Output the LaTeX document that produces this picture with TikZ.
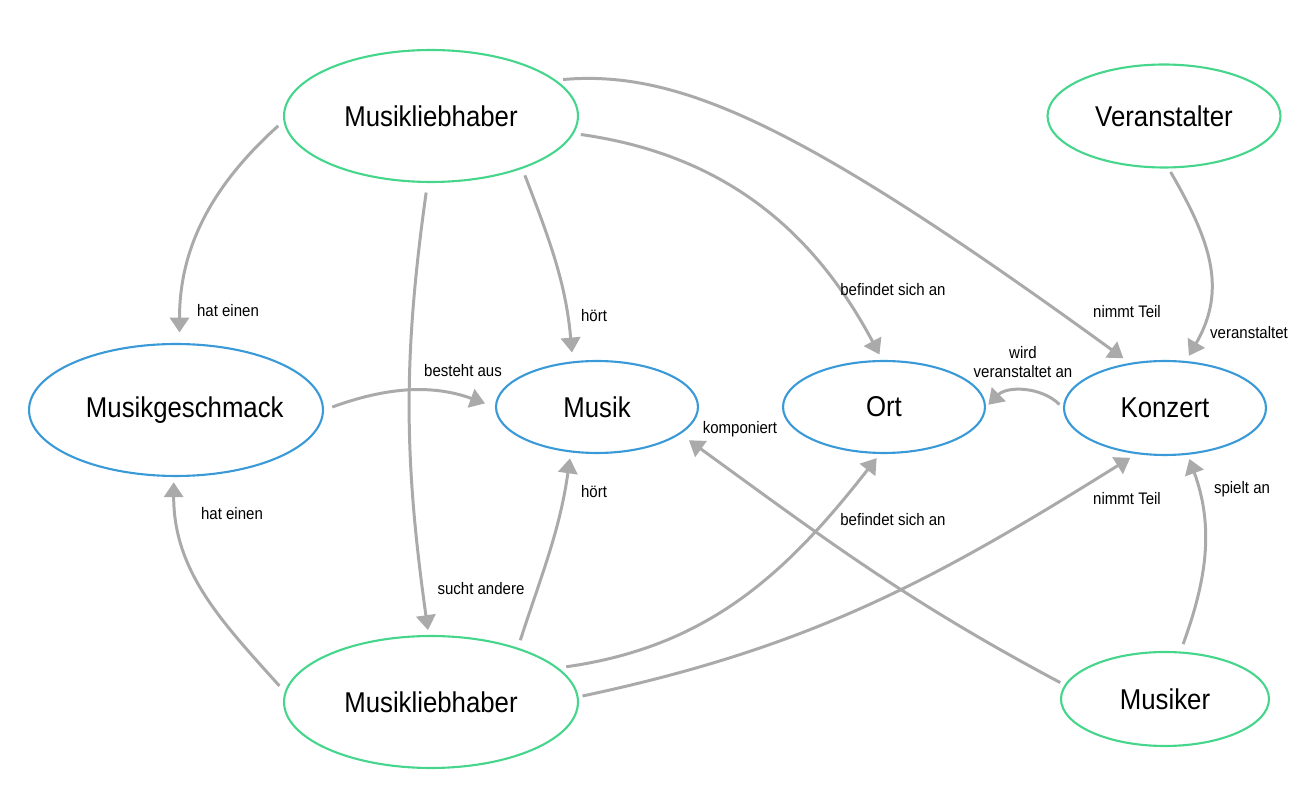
\documentclass[tikz,border=0pt]{standalone}
\usepackage{fontspec}
\setmainfont[FakeStretch=0.9]{Liberation Sans}
\usepackage{tikz}
\usetikzlibrary{arrows.meta,shapes}

\definecolor{mintgreen}{HTML}{45D68C}
\definecolor{skyblue}{HTML}{3A9AD8}
\definecolor{edgegray}{HTML}{AAAAAA}

\begin{document}
\begin{tikzpicture}[->,>={Triangle[length=8.5pt,width=11pt]},x=0.02cm,y=0.02cm,
    main node/.style={ellipse,draw,line width=1.2pt,inner sep=0pt,fill=white,
        font=\fontsize{16.3}{19}\selectfont},
    actor node/.style={main node,draw=mintgreen},
    thing node/.style={main node,draw=skyblue},
    rel text/.style={font=\fontsize{9.5}{11}\selectfont,align=center,inner sep=0pt}]

      \useasboundingbox (0,0) rectangle (1313,795);

      \node[actor node,minimum width=5.88cm,minimum height=2.64cm] (1) at (431,679) {Musikliebhaber};
      \node[actor node,minimum width=4.66cm,minimum height=2.06cm] (2) at (1164,679) {Veranstalter};
      \node[thing node,minimum width=5.88cm,minimum height=2.64cm] (3) at (176,385) {\makebox[0pt]{\hspace{10pt}Musikgeschmack}};
      \node[thing node,minimum width=4.04cm,minimum height=1.84cm] (4) at (597,388) {Musik};
      \node[thing node,minimum width=4.04cm,minimum height=1.84cm] (5) at (884,388) {Ort};
      \node[thing node,minimum width=4.04cm,minimum height=1.88cm] (6) at (1165,387) {Konzert};
      \node[actor node,minimum width=5.88cm,minimum height=2.64cm] (7) at (431,93) {Musikliebhaber};
      \node[actor node,minimum width=4.16cm,minimum height=1.88cm] (8) at (1165,96) {Musiker};

      % relations
      \path[color=edgegray,line width=1.7pt,shorten <=4pt,shorten >=4pt]
       (1.182) edge[out=222,in=90,shorten >=6pt] (3.87)
       (1.330) edge[out=291,in=95,shorten >=5pt] (4.118)
       (1.353) edge[out=-8,in=118,shorten >=3.5pt] (5.92)
       (1.16) edge[out=5,in=144,out looseness=0.5,in looseness=1.6,shorten >=4.5pt] (6.128)
       (1.267) edge[out=262,in=98,shorten <=5.5pt,shorten >=2.8pt] (7.92)
       (2.275) edge[out=300,in=60,looseness=1.1,shorten <=2.3pt,shorten >=3.4pt] (6.66)
       (3.0) edge[out=20,in=160,shorten <=5pt,shorten >=6pt] (4.180)
       (6.180) edge[out=135,in=45,shorten <=2.8pt,shorten >=1.8pt] (5.0)
       (7.176) edge[out=132,in=270,shorten <=4.5pt,shorten >=3pt] (3.268)
       (7.32) edge[out=72,in=262,shorten <=4.5pt,shorten >=3.4pt] (4.240)
       (7.15) edge[out=8,in=232,shorten <=4.5pt,shorten >=3pt] (5.265)
       (7.2) edge[out=12,in=212,shorten <=2.3pt,shorten >=4pt] (6.238)
       (8.172) edge[out=152,in=-36,shorten <=2.8pt,shorten >=6pt] (4.342)
       (8.72) edge[out=70,in=290,shorten <=4.5pt,shorten >=2.5pt] (6.296);

      \node[rel text] (l1) at (228,484) {hat einen};
      \node[rel text] (l2) at (594,479) {hört};
      \node[rel text] (l3) at (893,505) {befindet sich an};
      \node[rel text] (l4) at (1127,483) {nimmt Teil};
      \node[rel text] (l5) at (1249,462) {veranstaltet};
      \node[rel text] (l6) at (463,424) {besteht aus};
      \node[rel text] (l7) at (1023,433) {wird\\veranstaltet an};
      \node[rel text] (l8) at (740,366) {komponiert};
      \node[rel text] (l9) at (232,281) {hat einen};
      \node[rel text] (l10) at (594,303) {hört};
      \node[rel text] (l11) at (893,275) {befindet sich an};
      \node[rel text] (l12) at (1127,296) {nimmt Teil};
      \node[rel text] (l13) at (1242,306) {spielt an};
      \node[rel text] (l14) at (481,206) {sucht andere};
\end{tikzpicture}
\end{document}
